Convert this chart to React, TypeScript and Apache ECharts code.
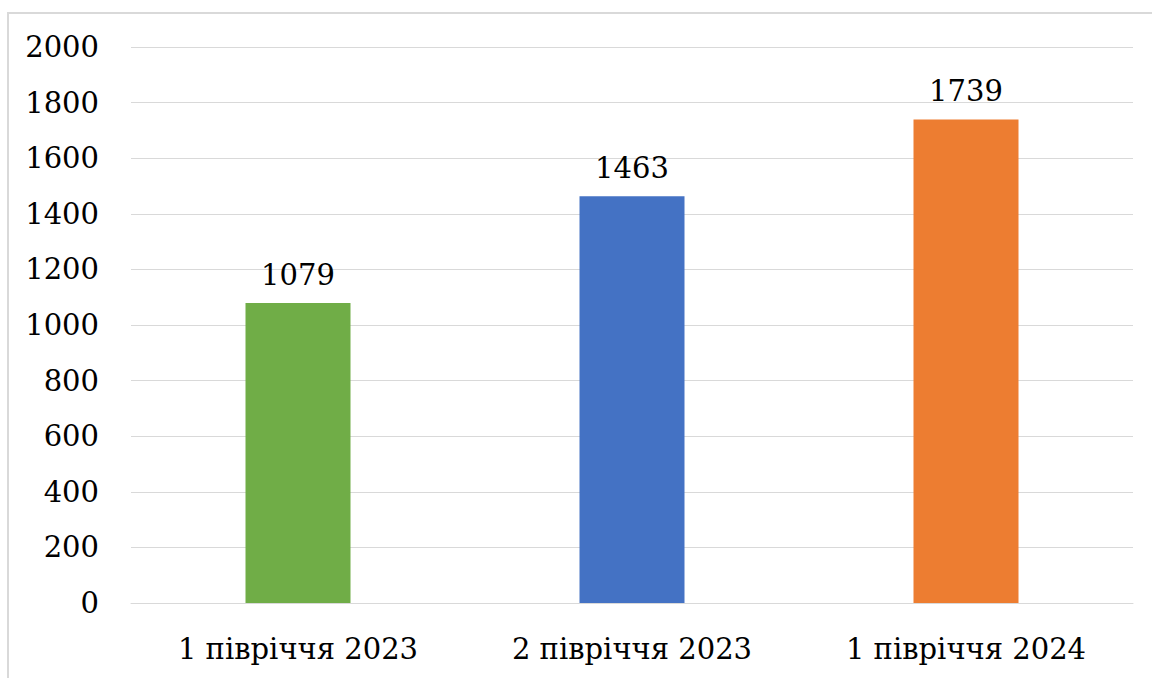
import React, { useEffect, useRef } from "react";
import * as echarts from "echarts";

const categories = ["1 півріччя 2023", "2 півріччя 2023", "1 півріччя 2024"];
const values = [1079, 1463, 1739];
const barColors = ["#70ad47", "#4472c4", "#ed7d31"];
const yTicks = { min: 0, max: 2000, interval: 200 };

const FONT = "DejaVu Serif";
const FS = 29;

export default function App() {
  const ref = useRef<HTMLDivElement>(null);
  useEffect(() => {
    document.body.style.margin = "0";
    const chart = echarts.init(ref.current!, undefined, { renderer: "svg" });
    chart.setOption({
      animation: false,
      backgroundColor: "#ffffff",
      grid: { left: 131, right: 19, top: 47, bottom: 75, containLabel: false },
      graphic: [
        {
          type: "rect",
          shape: { x: 8, y: 13, width: 1200, height: 700 },
          style: { fill: "none", stroke: "#d9d9d9", lineWidth: 2 },
          silent: true,
          z: -1,
        },
      ],
      xAxis: {
        type: "category",
        data: categories,
        axisTick: { show: false },
        axisLine: { show: true, lineStyle: { color: "#d9d9d9", width: 1 } },
        axisLabel: { color: "#000", fontFamily: FONT, fontSize: FS, margin: 31, interval: 0 },
      },
      yAxis: {
        type: "value",
        min: yTicks.min,
        max: yTicks.max,
        interval: yTicks.interval,
        axisLine: { show: false },
        axisTick: { show: false },
        splitLine: { lineStyle: { color: "#d9d9d9", width: 1 } },
        axisLabel: {
          color: "#000",
          fontFamily: FONT,
          fontSize: FS,
          margin: 32,
          formatter: (v: number) => String(v),
        },
      },
      series: [
        {
          type: "bar",
          barWidth: 105,
          data: values.map((v, i) => ({ value: v, itemStyle: { color: barColors[i] } })),
          label: {
            show: true,
            position: "top",
            distance: 14,
            color: "#000",
            fontFamily: FONT,
            fontSize: FS,
          },
        },
      ],
    });
    return () => chart.dispose();
  }, []);
  return <div ref={ref} style={{ width: 1152, height: 678 }} />;
}
